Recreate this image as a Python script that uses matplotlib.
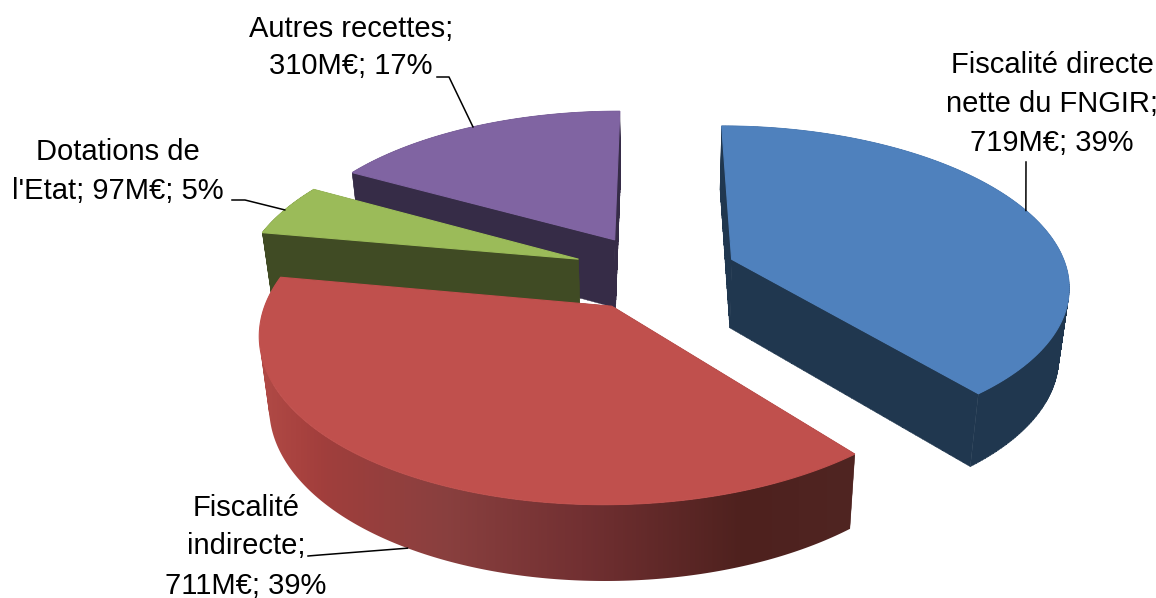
import numpy as np
import matplotlib
matplotlib.use("Agg")
import matplotlib.pyplot as plt
from matplotlib.colors import LinearSegmentedColormap
from matplotlib.patches import PathPatch
from matplotlib.path import Path

plt.rcParams["font.family"] = ["Liberation Sans", "DejaVu Sans"]

# Recettes de fonctionnement, en millions d'euros
categories = ["Fiscalité directe nette du FNGIR", "Fiscalité indirecte", "Dotations de l'Etat", "Autres recettes"]
values = [719, 711, 97, 310]
shares = [39, 39, 5, 17]

top_colors = ["#4F81BD", "#C0504D", "#9BBB59", "#8064A2"]
side_colors = ["#20374F", "#4E2320", "#404B24", "#362C47"]

# wall shading of the red slice, from left to right
red_x = [261, 300, 326, 442, 582, 745, 855]
red_shade = ["#B04A46", "#A8423F", "#A03E3C", "#8A403F", "#723032", "#4E211E", "#502522"]

label_lines = [
    ["Fiscalité directe", "nette du FNGIR;", "719M€; 39%"],
    ["Fiscalité", "indirecte;", "711M€; 39%"],
    ["Dotations de", "l'Etat; 97M€; 5%"],
    ["Autres recettes;", "310M€; 17%"],
]
label_xy = [(1052, [65, 104, 143]), (246, [508, 546, 586]), (118, [152, 191]), (351, [29, 66])]
leader_xy = [[(1026, 162)], [(308, 556), (320, 555)], [(232, 200), (245, 200)], [(437, 77), (449, 77)]]

# projection of the tilted pie
CX, CY = 655, 272
A, B = 336, 157
PERSP = 0.151
EXPLODE = 0.245
DEPTH = 69
BASE_SHRINK = 0.975


def project(u, v, base=False):
    w = 1 / (1 + PERSP * v)
    x = A * u * w
    y = CY - B * v * w
    if base:
        return CX + x * BASE_SHRINK, y + DEPTH * np.sqrt(w)
    return CX + x, y


def side_path(u, v):
    # one quad per step, all wound the same way so the silhouette stays filled
    x0, y0 = project(u, v)
    x1, y1 = project(u, v, base=True)
    paths = []
    for k in range(len(u) - 1):
        quad = np.array([(x0[k], y0[k]), (x0[k + 1], y0[k + 1]), (x1[k + 1], y1[k + 1]), (x1[k], y1[k])])
        area = np.sum(quad[:, 0] * np.roll(quad[:, 1], -1) - np.roll(quad[:, 0], -1) * quad[:, 1])
        if area < 0:
            quad = quad[::-1]
        paths.append(Path(np.vstack([quad, quad[0]]), closed=True))
    return Path.make_compound_path(*paths)


fig = plt.figure(figsize=(11.56, 5.98), dpi=100)
ax = fig.add_axes([0, 0, 1, 1])

angles = 360 * np.cumsum([0] + values) / sum(values)
red_cmap = LinearSegmentedColormap.from_list(
    "red_wall", [((x - red_x[0]) / (red_x[-1] - red_x[0]), c) for x, c in zip(red_x, red_shade)]
)

z = 1
leaders = []

# back slices first, so the front ones cover them
for i in [3, 2, 1, 0]:
    start, end = np.radians(angles[i]), np.radians(angles[i + 1])
    mid = (start + end) / 2
    ou, ov = EXPLODE * np.sin(mid), EXPLODE * np.cos(mid)
    t = np.linspace(start, end, 200)
    ru, rv = ou + np.sin(t), ov + np.cos(t)

    # radial faces
    for a in (start, end):
        su = np.linspace(ou, ou + np.sin(a), 40)
        sv = np.linspace(ov, ov + np.cos(a), 40)
        ax.add_patch(PathPatch(side_path(su, sv), fc=side_colors[i], ec=side_colors[i], lw=0.3, zorder=z))
        z += 1

    # outer wall
    wall = PathPatch(side_path(ru, rv), fc=side_colors[i], ec=side_colors[i], lw=0.3, zorder=z)
    ax.add_patch(wall)
    z += 1
    if i == 1:
        wall.set_visible(False)
        shade = ax.imshow(
            np.linspace(0, 1, 256).reshape(1, -1), cmap=red_cmap, aspect="auto",
            extent=[red_x[0], red_x[-1], 598, 0], zorder=z,
        )
        shade.set_clip_path(wall)
        z += 1

    # top face, its own edge hides the faces underneath
    ox, oy = project(ou, ov)
    rx, ry = project(ru, rv)
    ax.fill(np.r_[ox, rx], np.r_[oy, ry], fc=top_colors[i], ec=top_colors[i], lw=0.8, zorder=z)
    z += 1

    # leader goes to the middle of the slice, on the lower rim for the front one
    ex, ey = project(ou + np.sin(mid), ov + np.cos(mid), base=(i == 1))
    leaders.append(leader_xy[i] + [(ex, ey)])

for pts in leaders:
    ax.plot([p[0] for p in pts], [p[1] for p in pts], color="black", lw=1.1, zorder=z)

for lines, (lx, ys) in zip(label_lines, label_xy):
    for line, ly in zip(lines, ys):
        ax.text(lx, ly, line, fontsize=21, ha="center", va="center", color="black", zorder=z + 1)

ax.set_xlim(0, 1156)
ax.set_ylim(598, 0)
ax.axis("off")

fig.savefig("out.png", dpi=100)
